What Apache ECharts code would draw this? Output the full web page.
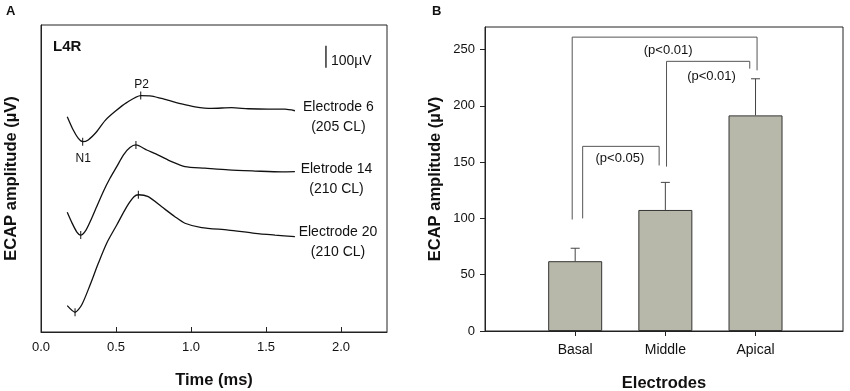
<!DOCTYPE html>
<html><head><meta charset="utf-8">
<script src="https://cdn.jsdelivr.net/npm/echarts@6/dist/echarts.min.js"></script>
<style>html,body{margin:0;padding:0;background:#fff}#c{width:850px;height:391px}</style>
</head><body><div id="c"></div>
<script>
const FONT = '"Liberation Sans", Arial, sans-serif';

// ---------- Panel A: ECAP traces (time in ms, amplitude in µV incl. display offset) ----------
const trace6Time  = [0.175,0.215,0.249,0.278,0.315,0.371,0.427,0.493,0.571,0.665,0.738,0.827,0.938,1.027,1.138,1.271,1.382,1.515,1.627,1.693];
const trace6Amp   = [982,921,883,868,876,913,964,1005,1046,1078,1076,1061,1040,1027,1020,1023,1018,1016,1016,1009];
const trace14Time = [0.175,0.205,0.238,0.265,0.3,0.338,0.371,0.415,0.46,0.505,0.549,0.593,0.633,0.705,0.782,0.871,0.96,1.093,1.249,1.427,1.605,1.693];
const trace14Amp  = [546,500,457,442,465,519,571,640,701,754,807,841,853,830,807,777,754,747,739,734,730,731];
const trace20Time = [0.175,0.227,0.271,0.327,0.382,0.438,0.505,0.571,0.62,0.649,0.715,0.805,0.893,0.96,1.071,1.249,1.427,1.56,1.693];
const trace20Amp  = [120,90,123,214,313,405,488,571,617,626,617,571,526,496,476,465,450,442,435];
const n1Time = [0.278,0.265,0.227];
const n1Amp  = [868,442,90];
const p2Time = [0.665,0.633,0.649];
const p2Amp  = [1078,853,626];
const traceLabels = ['Electrode 6\n(205 CL)','Eletrode 14\n(210 CL)','Electrode 20\n(210 CL)'];
const traceLabelTime = [1.983,1.97,1.98];
const traceLabelAmp  = [982,696,410];
const timeTicks = [0,0.5,1.0,1.5,2.0];
const scaleBarTime = 1.9;
const scaleBarAmp = [1205,1305];   // 100 µV

// ---------- Panel B: ECAP amplitude per electrode region ----------
const categories = ['Basal','Middle','Apical'];
const meanAmp = [62,107.5,191.5];
const semAmp  = [11.5,24.5,32.5];
const ampTicks = [0,50,100,150,200,250];
const pLabels = ['(p<0.05)','(p<0.01)','(p<0.01)'];
const bracketLeftX  = [1.083,2.013,0.967];
const bracketRightX = [1.931,2.936,3.017];
const bracketTop    = [164,239.5,261];
const bracketLeftBottom  = [100,146,99];
const bracketRightBottom = [147,233,231.5];
const pLabelX = [1.496,2.512,2.031];
const pLabelY = [153.4,226.5,249.4];

const zip = (a,b) => a.map((v,i)=>[v,b[i]]);
const txt = {color:'#111', fontFamily:FONT};

const series = [];
[[trace6Time,trace6Amp],[trace14Time,trace14Amp],[trace20Time,trace20Amp]].forEach((t,i)=>{
  series.push({type:'line', xAxisIndex:0, yAxisIndex:0, data:zip(t[0],t[1]), smooth:0.25,
    showSymbol:false, symbol:'none', lineStyle:{color:'#111', width:1.3}, silent:true, animation:false});
});
series.push({type:'scatter', xAxisIndex:0, yAxisIndex:0, data:zip(n1Time,n1Amp).concat(zip(p2Time,p2Amp)),
  symbol:'rect', symbolSize:[1,8], itemStyle:{color:'#111', opacity:1}, animation:false, silent:true});
// trace labels
series.push({type:'scatter', xAxisIndex:0, yAxisIndex:0, symbolSize:0, animation:false, silent:true,
  itemStyle:{opacity:1},
  data: traceLabels.map((n,i)=>({name:n, value:[traceLabelTime[i], traceLabelAmp[i]]})),
  label:{show:true, position:'inside', formatter:p=>p.name, align:'center', verticalAlign:'middle',
    fontSize:14, lineHeight:20, ...txt}});
// N1 / P2 / L4R / scale text
series.push({type:'scatter', xAxisIndex:0, yAxisIndex:0, symbolSize:0, animation:false, silent:true,
  itemStyle:{opacity:1},
  data:[
    {name:'P2', value:[0.671,1126], label:{fontSize:12}},
    {name:'N1', value:[0.282,792], label:{fontSize:12}},
    {name:'L4R', value:[0.08,1301], label:{fontSize:15, fontWeight:'bold', align:'left'}},
    {name:'100µV', value:[1.933,1236], label:{fontSize:14, align:'left'}}
  ],
  label:{show:true, position:'inside', formatter:p=>p.name, align:'center', verticalAlign:'middle', ...txt}});
// scale bar
series.push({type:'line', xAxisIndex:0, yAxisIndex:0, data:scaleBarAmp.map(v=>[scaleBarTime,v]),
  symbol:'none', lineStyle:{color:'#111', width:1.3}, animation:false, silent:true});

// Panel B
series.push({type:'bar', xAxisIndex:1, yAxisIndex:1, data:meanAmp.map((v,i)=>[i+1,v]), barWidth:54,
  itemStyle:{color:'#b8b8aa', borderColor:'#333', borderWidth:1}, animation:false, silent:true});
series.push({type:'custom', xAxisIndex:1, yAxisIndex:1, data:meanAmp.map((v,i)=>[i+1,v,semAmp[i]]),
  animation:false, silent:true, z:5,
  renderItem:(params, api)=>{
    const x=api.value(0), m=api.value(1), e=api.value(2);
    const p0=api.coord([x,m]), p1=api.coord([x,m+e]);
    return {type:'group', children:[
      {type:'line', shape:{x1:p0[0],y1:p0[1],x2:p1[0],y2:p1[1]}, style:{stroke:'#444', lineWidth:1}},
      {type:'line', shape:{x1:p1[0]-4.5,y1:p1[1],x2:p1[0]+4.5,y2:p1[1]}, style:{stroke:'#444', lineWidth:1}}
    ]};
  }});
pLabels.forEach((l,i)=>{
  series.push({type:'line', xAxisIndex:1, yAxisIndex:1, symbol:'none', animation:false, silent:true,
    lineStyle:{color:'#555', width:1},
    data:[[bracketLeftX[i],bracketLeftBottom[i]],[bracketLeftX[i],bracketTop[i]],
          [bracketRightX[i],bracketTop[i]],[bracketRightX[i],bracketRightBottom[i]]]});
});
series.push({type:'scatter', xAxisIndex:1, yAxisIndex:1, symbolSize:0, animation:false, silent:true,
  itemStyle:{opacity:1},
  data:pLabels.map((l,i)=>({name:l, value:[pLabelX[i], pLabelY[i]]})),
  label:{show:true, position:'inside', formatter:p=>p.name, align:'center', verticalAlign:'middle',
    fontSize:13, ...txt}});

const axisLine = {show:true, lineStyle:{color:'#222', width:1}};
const nameStyle = {fontSize:16.5, fontWeight:'bold', ...txt};

const chart = echarts.init(document.getElementById('c'), null, {renderer:'canvas'});
chart.setOption({
  animation:false,
  backgroundColor:'#fff',
  textStyle:{fontFamily:FONT},
  graphic:[
    {type:'text', left:6, top:5, style:{text:'A', fontSize:13, fontWeight:'bold', fill:'#111', fontFamily:FONT}},
    {type:'text', left:432, top:5, style:{text:'B', fontSize:13, fontWeight:'bold', fill:'#111', fontFamily:FONT}}
  ],
  grid:[
    {left:41, right:463, top:25, bottom:59, show:true, borderColor:'#222', borderWidth:1, containLabel:false, outerBoundsMode:'none'},
    {left:485, right:7, top:27, bottom:60, show:true, borderColor:'#222', borderWidth:1, containLabel:false, outerBoundsMode:'none'}
  ],
  xAxis:[
    {type:'value', gridIndex:0, min:0, max:2.307, axisLine,
      axisTick:{show:true, inside:true, length:5, customValues:timeTicks, lineStyle:{color:'#222'}},
      axisLabel:{customValues:timeTicks, formatter:v=>v.toFixed(1), fontSize:13, margin:9, ...txt},
      splitLine:{show:false},
      name:'Time (ms)', nameLocation:'middle', nameGap:40, nameTextStyle:nameStyle},
    {type:'value', gridIndex:1, min:0, max:3.97, axisLine,
      axisTick:{show:true, inside:false, length:5, customValues:[1,2,3], lineStyle:{color:'#222'}},
      axisLabel:{customValues:[1,2,3], formatter:v=>categories[Math.round(v)-1]||'', fontSize:14, margin:12, ...txt},
      splitLine:{show:false},
      name:'Electrodes', nameLocation:'middle', nameGap:44, nameTextStyle:nameStyle}
  ],
  yAxis:[
    {type:'value', gridIndex:0, min:0, max:1400, axisLine, axisTick:{show:false}, axisLabel:{show:false},
      splitLine:{show:false},
      name:'ECAP amplitude (µV)', nameLocation:'middle', nameGap:21, nameTextStyle:nameStyle},
    {type:'value', gridIndex:1, min:0, max:270, axisLine,
      axisTick:{show:true, inside:false, length:5, customValues:ampTicks, lineStyle:{color:'#222'}},
      axisLabel:{customValues:ampTicks, fontSize:13, margin:10, ...txt},
      splitLine:{show:false},
      name:'ECAP amplitude (µV)', nameLocation:'middle', nameGap:41, nameTextStyle:nameStyle}
  ],
  series
});
</script></body></html>
